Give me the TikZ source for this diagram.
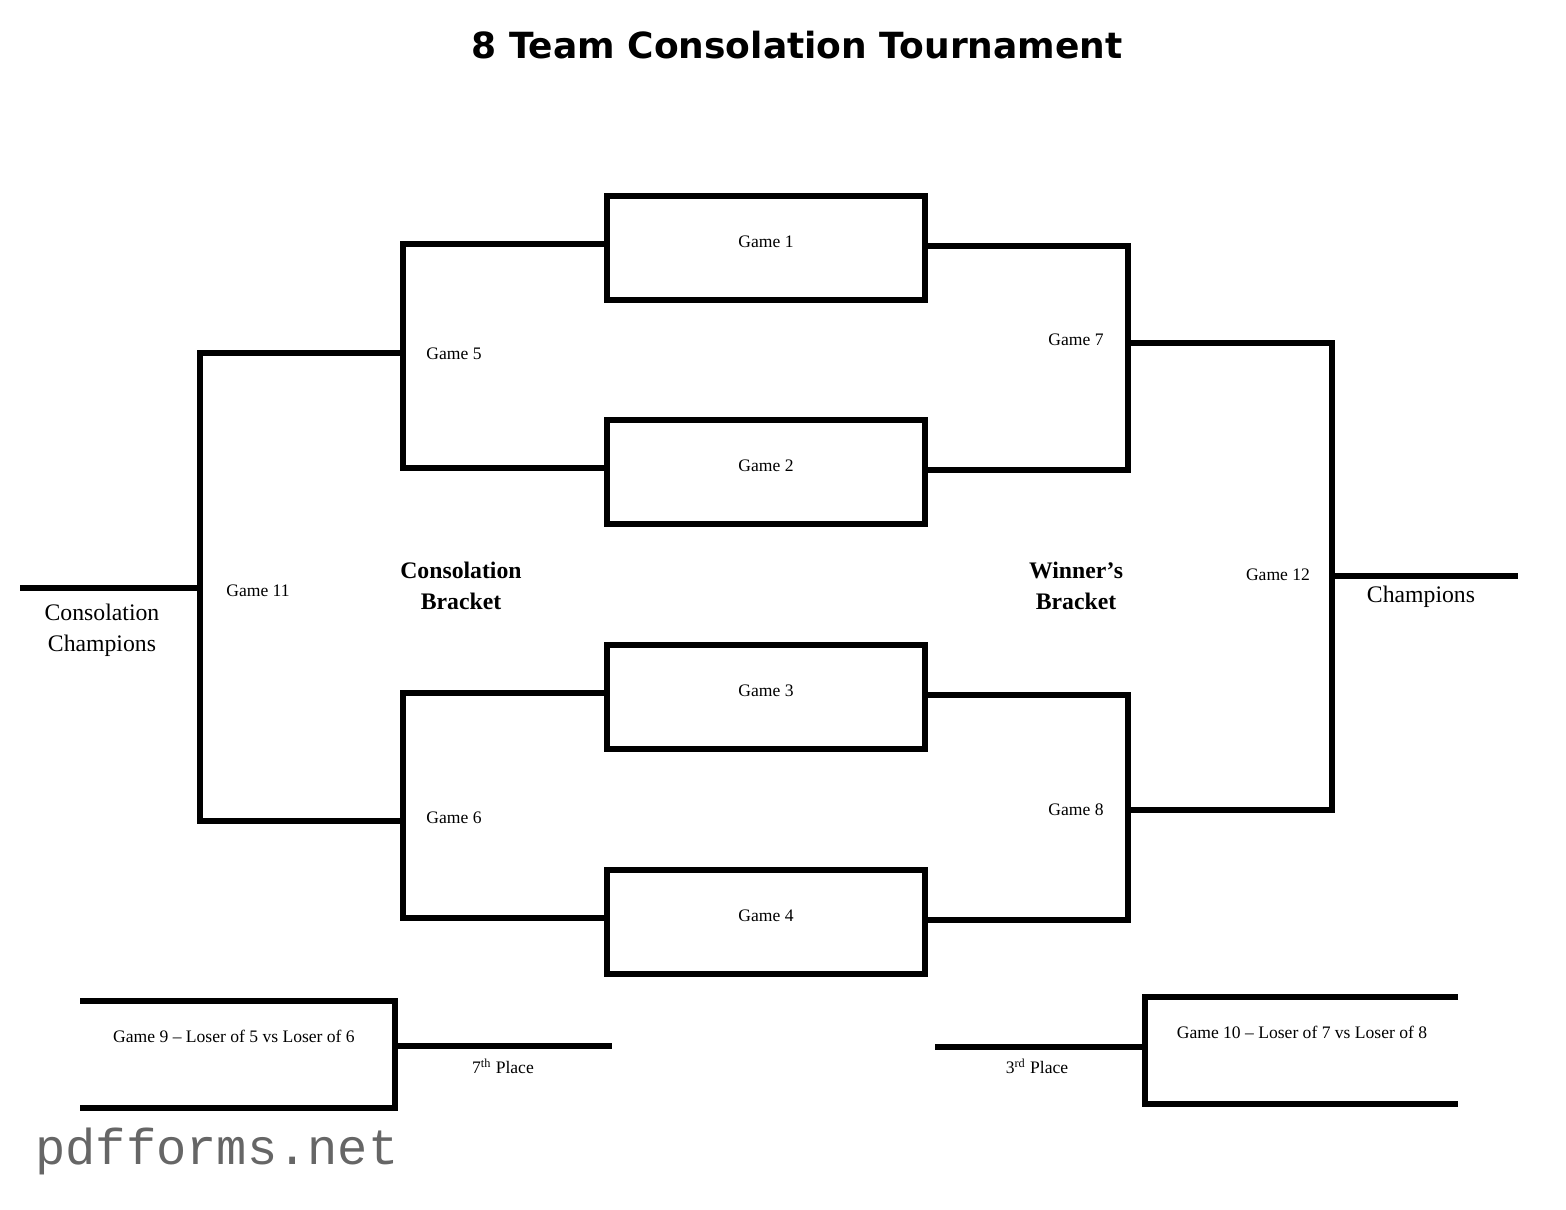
\documentclass[tikz,border=0pt]{standalone}
\usepackage{fontspec}
\setmainfont{Liberation Serif}
\newfontfamily\headfont{DejaVu Sans}
\newfontfamily\markfont{Liberation Mono}
\tikzset{
  bline/.style={draw,line width=3.4pt},
  gamebox/.style={bline,minimum width=6.36cm,minimum height=2.08cm,inner sep=0pt,outer sep=0pt},
  small/.style={font=\fontsize{10}{12}\selectfont},
  big/.style={font=\fontsize{13.5}{17.6}\selectfont,align=center},
  bigbold/.style={font=\fontsize{13.5}{17.6}\selectfont\bfseries,align=center}
}
\begin{document}
\begin{tikzpicture}[x=0.02cm,y=-0.02cm]
\useasboundingbox (0,0) rectangle (1566,1210);
\node[font=\headfont\bfseries\fontsize{20.5}{24}\selectfont] (title) at (797,45) {8 Team Consolation Tournament};
\foreach \n/\y in {1/248,2/472,3/697,4/922}
  \node[gamebox,label={[small,yshift=3.4pt]center:Game \n}] (g\n) at (766,\y) {};
\coordinate (g5) at (403,353);
\coordinate (g6) at (403,821);
\coordinate (g7) at (1128,343);
\coordinate (g8) at (1128,810);
\coordinate (g11) at (200,588);
\coordinate (g12) at (1332,576);
\coordinate (cchamp) at (20,588);
\coordinate (champ) at (1518,576);
\path[bline] ([yshift=2.2pt]g1.west) -| (g5) |- ([yshift=2.2pt]g2.west);
\path[bline] ([yshift=2.2pt]g3.west) -| (g6) |- ([yshift=2.2pt]g4.west);
\path[bline] ([yshift=1.2pt]g1.east) -| (g7) |- ([yshift=1.2pt]g2.east);
\path[bline] ([yshift=1.2pt]g3.east) -| (g8) |- ([yshift=1.2pt]g4.east);
\path[bline] (g5) -| (g11) |- (g6);
\path[bline] (g7) -| (g12) |- (g8);
\path[bline] (g11) -- (cchamp);
\path[bline] (g12) -- (champ);
\node[small] (l5) at (454,354) {Game 5};
\node[small] (l6) at (454,818) {Game 6};
\node[small] (l7) at (1076,340) {Game 7};
\node[small] (l8) at (1076,810) {Game 8};
\node[small] (l11) at (258,591) {Game 11};
\node[small] (l12) at (1278,575) {Game 12};
\node[bigbold] (cb) at (461,586) {Consolation\\Bracket};
\node[bigbold] (wb) at (1076,586) {Winner’s\\Bracket};
\node[big] (cc) at (102,630) {Consolation\\Champions};
\node[big] (ch) at (1421,597) {Champions};
\coordinate (g9) at (395,1046);
\coordinate (seventh) at (612,1046);
\path[bline] (80,1001) -- (395,1001) -- (395,1108) -- (80,1108);
\path[bline] (g9) -- (seventh);
\node[small] (l9) at (234,1036) {Game 9 – Loser of 5 vs Loser of 6};
\node[small] (p7) at (503,1066) {7\textsuperscript{th} Place};
\coordinate (g10) at (1145,1047);
\coordinate (third) at (935,1047);
\path[bline] (1458,997) -- (1145,997) -- (1145,1104) -- (1458,1104);
\path[bline] (g10) -- (third);
\node[small] (l10) at (1302,1032) {Game 10 – Loser of 7 vs Loser of 8};
\node[small] (p3) at (1037,1066) {3\textsuperscript{rd} Place};
\node[font=\markfont\fontsize{28.7}{32}\selectfont,text=black!60] (mark) at (217,1151) {pdfforms.net};
\end{tikzpicture}
\end{document}
